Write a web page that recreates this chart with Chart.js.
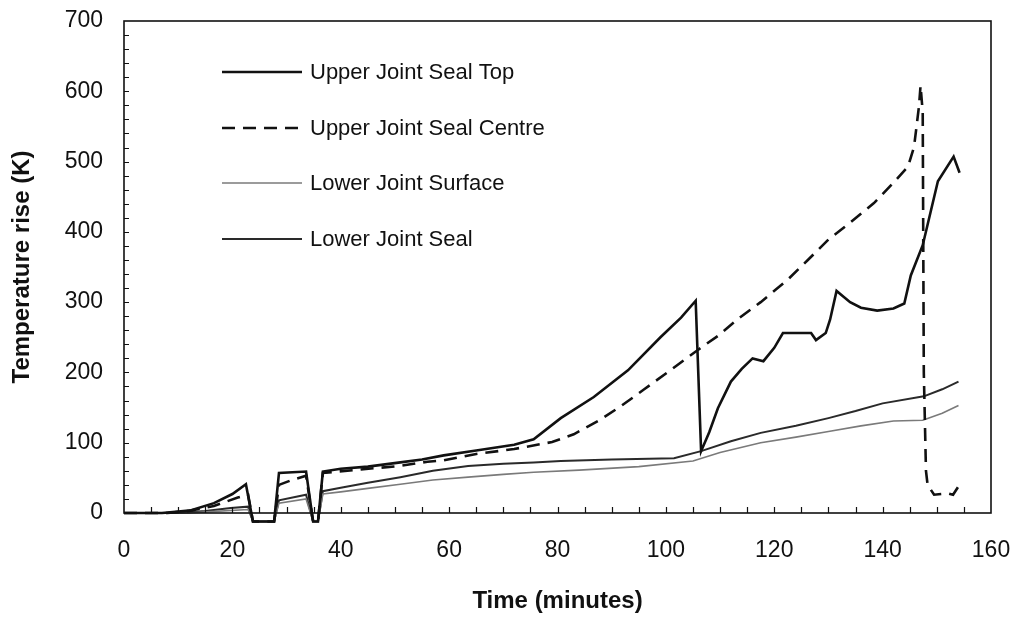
<!DOCTYPE html>
<html>
<head>
<meta charset="utf-8">
<script src="https://cdn.jsdelivr.net/npm/chart.js@4.4.1/dist/chart.umd.min.js"></script>
<style>
  body { margin: 0; background: #fff; }
  #wrap { width: 1020px; height: 626px; }
</style>
</head>
<body>
<div id="wrap"><canvas id="chart" width="1020" height="626"></canvas></div>
<script>
// === DATA (time in minutes, temperature rise in K) ===
const sealTopTime = [0, 5, 7, 10, 12.4, 16.6, 20, 22.5, 23.8, 27.7, 28.6, 33.6, 34.9, 35.8, 36.7, 40, 45, 51, 55, 59, 65, 72, 75.6, 80.6, 86.7, 93, 99, 102.8, 105.5, 106.5, 108, 109.6, 112, 114, 116, 118, 120, 121.6, 126.8, 127.7, 129.5, 130.3, 131.5, 134, 136, 139, 142, 144, 145.2, 147.4, 150.2, 153.1, 154.2];
const sealTopTemp = [0, 0, 0, 2, 4, 14, 27, 41, -12, -12, 57, 59, -12, -12, 59, 63, 66, 72, 76, 82, 89, 97, 105, 135, 165, 203, 250, 278, 302, 88, 115, 149, 187, 205, 220, 216, 235, 256, 256, 246, 256, 275, 316, 300, 292, 288, 291, 298, 338, 381, 472, 507, 484];

const sealCentreTime = [0, 8, 12, 16.6, 21, 22.9, 23.8, 27.7, 28.6, 31, 33.6, 34.9, 35.8, 36.7, 43.7, 51, 56, 59, 65, 72, 79, 83, 87.5, 91.7, 96, 101, 105.9, 109.6, 113.3, 117.5, 122.5, 126.2, 130, 134, 138.4, 142, 144.7, 145.8, 146.7, 147, 147.4, 147.6, 148, 148.3, 149.5, 152, 153, 154];
const sealCentreTemp = [0, 0, 3, 10, 22, 26, -12, -12, 40, 47, 53, -12, -12, 57, 62, 67, 73, 75, 84, 91, 101, 112, 131, 152, 176, 204, 232, 252, 276, 300, 332, 360, 389, 413, 441, 470, 493, 521, 578, 608, 570, 200, 60, 40, 26, 28, 26, 38];

const surfaceTime = [0, 12, 16, 22.9, 23.8, 27.7, 28.6, 33.6, 34.9, 35.8, 36.7, 40, 45, 51, 57, 63.5, 70, 75.6, 84, 95, 105, 110, 117.5, 124, 130, 136, 142, 147.4, 151, 154];
const surfaceTemp = [0, 0, 2, 5, -12, -12, 14, 20, -12, -12, 27, 30, 35, 41, 47, 51, 55, 58, 61, 66, 74, 86, 100, 108, 116, 124, 131, 132, 142, 153];

const lowerSealTime = [0, 10, 15, 19.7, 22.9, 23.8, 27.7, 28.6, 33.6, 34.9, 35.8, 36.7, 40, 45, 51, 57, 63.5, 70, 75.6, 80.6, 90, 101.5, 106.5, 112, 117.5, 124, 130, 135, 140, 147.6, 151, 154];
const lowerSealTemp = [0, 0, 3, 7, 9, -12, -12, 18, 26, -12, -12, 31, 36, 43, 51, 60, 67, 70, 72, 74, 76, 78, 88, 102, 114, 124, 135, 145, 156, 166, 176, 187];

const seriesLabels = ["Upper Joint Seal Top", "Upper Joint Seal Centre", "Lower Joint Surface", "Lower Joint Seal"];
const xTicks = { min: 0, max: 160, step: 20, minor: 5 };
const yTicks = { min: 0, max: 700, step: 100, minor: 20 };

function toPoints(xs, ys) {
  return xs.map((t, i) => ({ x: t, y: ys[i] }));
}

const FONT = "'Liberation Sans', Arial, sans-serif";

// no extra room for tick labels hanging over the plot edges
function noOverflow(scale) {
  scale.paddingTop = 0;
  scale.paddingBottom = 0;
  scale.paddingLeft = 0;
  scale.paddingRight = 0;
}

/* =========================
   FRAME, INNER TICKS, LEGEND
========================= */
const framePlugin = {
  id: "framePlugin",
  afterDraw(chart) {
    const { ctx, chartArea: a, scales } = chart;
    const x = scales.x, y = scales.y;
    ctx.save();

    // box round the plot
    ctx.strokeStyle = "#111";
    ctx.lineWidth = 1.6;
    ctx.strokeRect(a.left, a.top, a.right - a.left, a.bottom - a.top);

    // inward tick marks
    ctx.lineWidth = 1.2;
    ctx.beginPath();
    for (let t = xTicks.min + xTicks.minor; t < xTicks.max; t += xTicks.minor) {
      const px = Math.round(x.getPixelForValue(t)) + 0.5;
      ctx.moveTo(px, a.bottom);
      ctx.lineTo(px, a.bottom - 6);
    }
    for (let v = yTicks.min + yTicks.minor; v < yTicks.max; v += yTicks.minor) {
      const py = Math.round(y.getPixelForValue(v)) + 0.5;
      ctx.moveTo(a.left, py);
      ctx.lineTo(a.left + 5, py);
    }
    ctx.stroke();

    // legend inside the plot
    const lx0 = 222, lx1 = 302, tx = 310;
    const rows = [72, 128, 183, 239];
    ctx.font = "22px " + FONT;
    ctx.textBaseline = "middle";
    ctx.fillStyle = "#111";
    chart.data.datasets.forEach((ds, i) => {
      ctx.beginPath();
      ctx.strokeStyle = ds.borderColor;
      ctx.lineWidth = ds.borderWidth;
      ctx.setLineDash(ds.borderDash || []);
      ctx.moveTo(lx0, rows[i]);
      ctx.lineTo(lx1, rows[i]);
      ctx.stroke();
      ctx.setLineDash([]);
      ctx.fillText(ds.label, tx, rows[i] + 1);
    });

    ctx.restore();
  }
};

const clipBox = { left: 5, top: 5, right: 5, bottom: 10 };

new Chart(document.getElementById("chart"), {
  type: "line",
  data: {
    datasets: [
      {
        label: seriesLabels[0],
        data: toPoints(sealTopTime, sealTopTemp),
        borderColor: "#111",
        borderWidth: 2.6,
        clip: clipBox
      },
      {
        label: seriesLabels[1],
        data: toPoints(sealCentreTime, sealCentreTemp),
        borderColor: "#111",
        borderWidth: 2.6,
        borderDash: [13, 8],
        clip: clipBox
      },
      {
        label: seriesLabels[2],
        data: toPoints(surfaceTime, surfaceTemp),
        borderColor: "#7a7a7a",
        borderWidth: 1.6,
        clip: clipBox
      },
      {
        label: seriesLabels[3],
        data: toPoints(lowerSealTime, lowerSealTemp),
        borderColor: "#2a2a2a",
        borderWidth: 2,
        clip: clipBox
      }
    ]
  },
  options: {
    responsive: false,
    animation: false,
    events: [],
    elements: {
      point: { radius: 0 },
      line: { tension: 0 }
    },
    layout: { padding: { top: 21, right: 29, left: 0, bottom: 0 } },
    scales: {
      x: {
        type: "linear",
        min: xTicks.min,
        max: xTicks.max,
        ticks: {
          stepSize: xTicks.step,
          color: "#111",
          font: { family: FONT, size: 23 },
          padding: 24,
          maxRotation: 0
        },
        grid: { drawOnChartArea: false, drawTicks: false },
        border: { display: false },
        title: {
          display: true,
          text: "Time (minutes)",
          color: "#111",
          font: { family: FONT, size: 24, weight: "bold" },
          padding: { top: 0, bottom: 10 }
        },
        afterFit(scale) { scale.height = 113; noOverflow(scale); }
      },
      y: {
        min: yTicks.min,
        max: yTicks.max,
        ticks: {
          stepSize: yTicks.step,
          color: "#111",
          font: { family: FONT, size: 23 },
          padding: 21
        },
        grid: { drawOnChartArea: false, drawTicks: false },
        border: { display: false },
        title: {
          display: true,
          text: "Temperature rise (K)",
          color: "#111",
          font: { family: FONT, size: 24, weight: "bold" },
          padding: { top: 8, bottom: 0 }
        },
        afterFit(scale) { scale.width = 124; noOverflow(scale); }
      }
    },
    plugins: {
      legend: { display: false },
      tooltip: { enabled: false }
    }
  },
  plugins: [framePlugin]
});
</script>
</body>
</html>
